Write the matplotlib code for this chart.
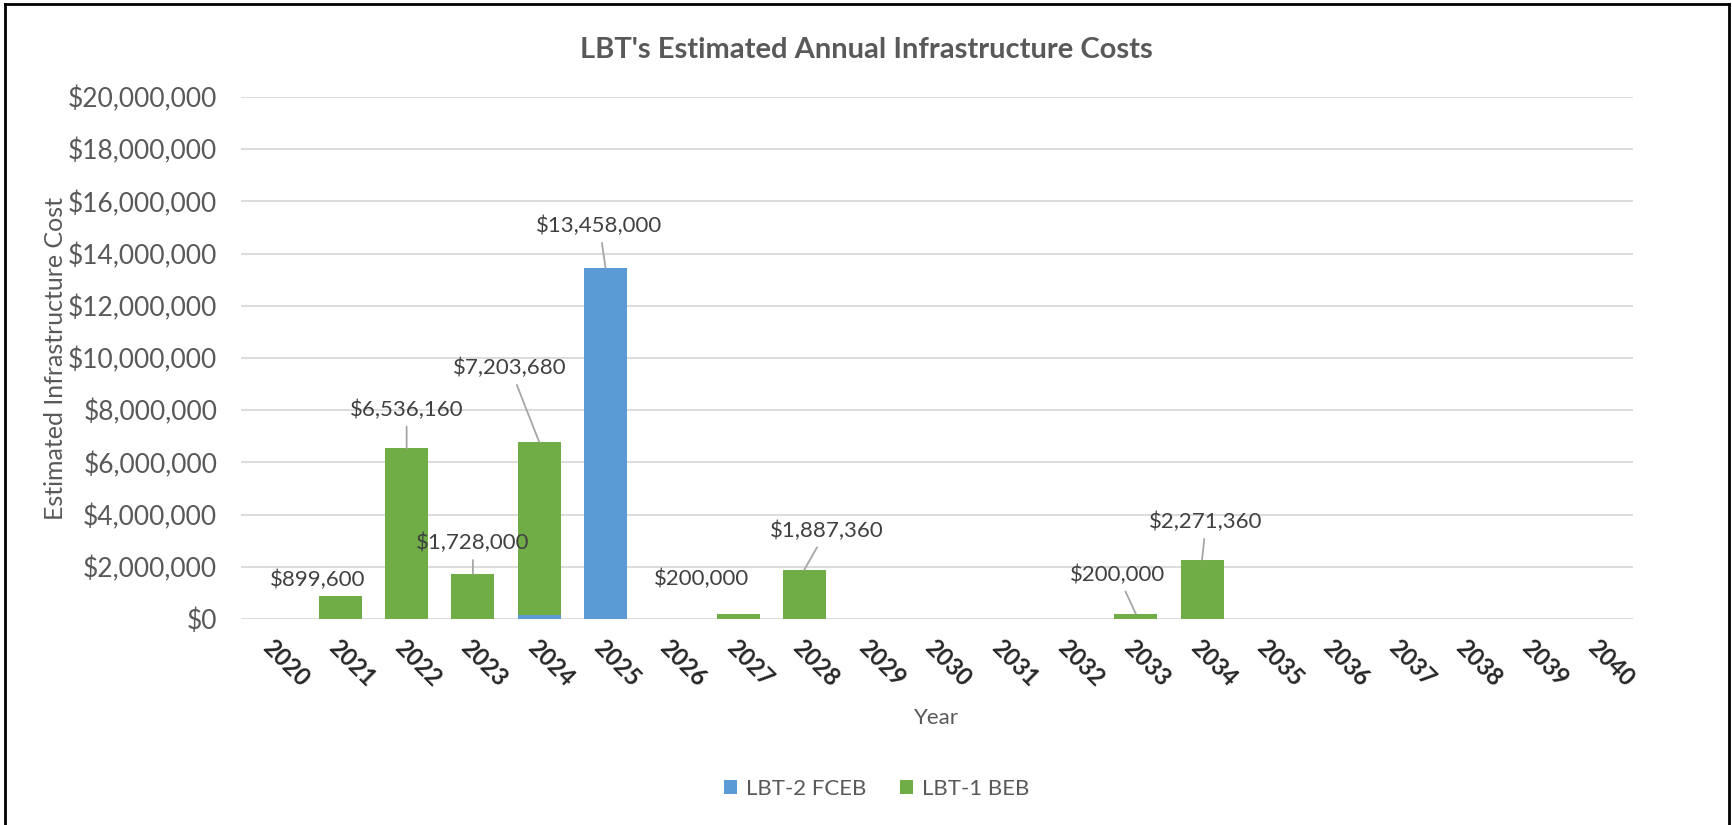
import numpy as np
import matplotlib.pyplot as plt
from matplotlib.lines import Line2D
from matplotlib.ticker import FuncFormatter

plt.rcParams['font.family'] = ['Lato', 'DejaVu Sans']

years = [str(y) for y in range(2020, 2041)]
fceb = [0, 0, 0, 0, 150000, 13458000, 0, 0, 0, 0, 0, 0, 0, 0, 0,
        0, 0, 0, 0, 0, 0]
beb = [0, 899600, 6536160, 1728000, 6630000, 0, 0, 200000, 1887360, 0, 0, 0, 0,
       200000, 2271360, 0, 0, 0, 0, 0, 0]
labels = [None, 899600, 6536160, 1728000, 7203680, 13458000, None, 200000, 1887360,
          None, None, None, None, 200000, 2271360, None, None, None, None, None, None]

# label offsets (pixels) from bar top and whether a leader line is drawn
offsets = {1: (-23, 16, False), 2: (0, 39, True), 3: (0, 31, True), 4: (-29, 74, True),
           5: (-6, 42, True), 7: (-37, 35, False), 8: (22, 39, True),
           13: (-18, 39, True), 14: (4, 38, True)}

blue = '#5B9BD5'
green = '#70AD47'
txt = '#595959'

fig = plt.figure(figsize=(17.32, 8.25), dpi=100)
ax = fig.add_axes([0.1391, 0.2497, 0.8037, 0.6327])

x = np.arange(len(years))
fceb = np.array(fceb)
beb = np.array(beb)
ax.bar(x, fceb, width=0.65, color=blue, label='LBT-2 FCEB', zorder=3)
ax.bar(x, beb, width=0.65, bottom=fceb, color=green, label='LBT-1 BEB', zorder=3)

tops = fceb + beb
for i, v in enumerate(labels):
    if v is None:
        continue
    dx, dy, lead = offsets[i]
    ax.annotate('${:,.0f}'.format(v), xy=(i, tops[i]), xytext=(dx, dy),
                textcoords='offset pixels', ha='center', va='center',
                fontsize=16, color='#404040',
                arrowprops=dict(arrowstyle='-', color='#A6A6A6', lw=1.3,
                                shrinkA=3, shrinkB=0) if lead else None,
                zorder=4)

ax.set_xlim(-0.5, len(years) - 0.5)
ax.set_ylim(0, 20000000)
ax.set_yticks(np.arange(0, 20000001, 2000000))
ax.yaxis.set_major_formatter(FuncFormatter(lambda v, p: '${:,.0f}'.format(v)))
ax.set_xticks(x)
ax.set_xticklabels(years, rotation=-45, ha='left', va='top', rotation_mode='anchor',
                   fontsize=17, color='#262626', fontweight='bold')
ax.tick_params(axis='y', labelsize=19, colors=txt, length=0, pad=17)
ax.tick_params(axis='x', length=0, pad=12)
ax.grid(axis='y', color='#D9D9D9', lw=1.3, zorder=0)
for s in ax.spines.values():
    s.set_visible(False)

ax.set_xlabel('Year', fontsize=16, color=txt, labelpad=12)
ax.set_ylabel('Estimated Infrastructure Cost', fontsize=18, color=txt, labelpad=1)
fig.text(0.5, 0.939, "LBT's Estimated Annual Infrastructure Costs", ha='center', va='center',
         fontsize=21, fontweight='bold', color=txt)

fig.legend(loc='center', bbox_to_anchor=(0.506, 0.044), ncol=2, frameon=False,
           fontsize=16, labelcolor=txt, handlelength=0.6, handleheight=0.6,
           handletextpad=0.4, columnspacing=1.5)

# outer frame
fig.add_artist(Line2D([0.003, 0.003], [0, 0.995], color='black', lw=2, transform=fig.transFigure))
fig.add_artist(Line2D([0.003, 0.998], [0.995, 0.995], color='black', lw=2, transform=fig.transFigure))
fig.add_artist(Line2D([0.998, 0.998], [0, 0.995], color='black', lw=2, transform=fig.transFigure))

fig.savefig('out.png', dpi=100)
